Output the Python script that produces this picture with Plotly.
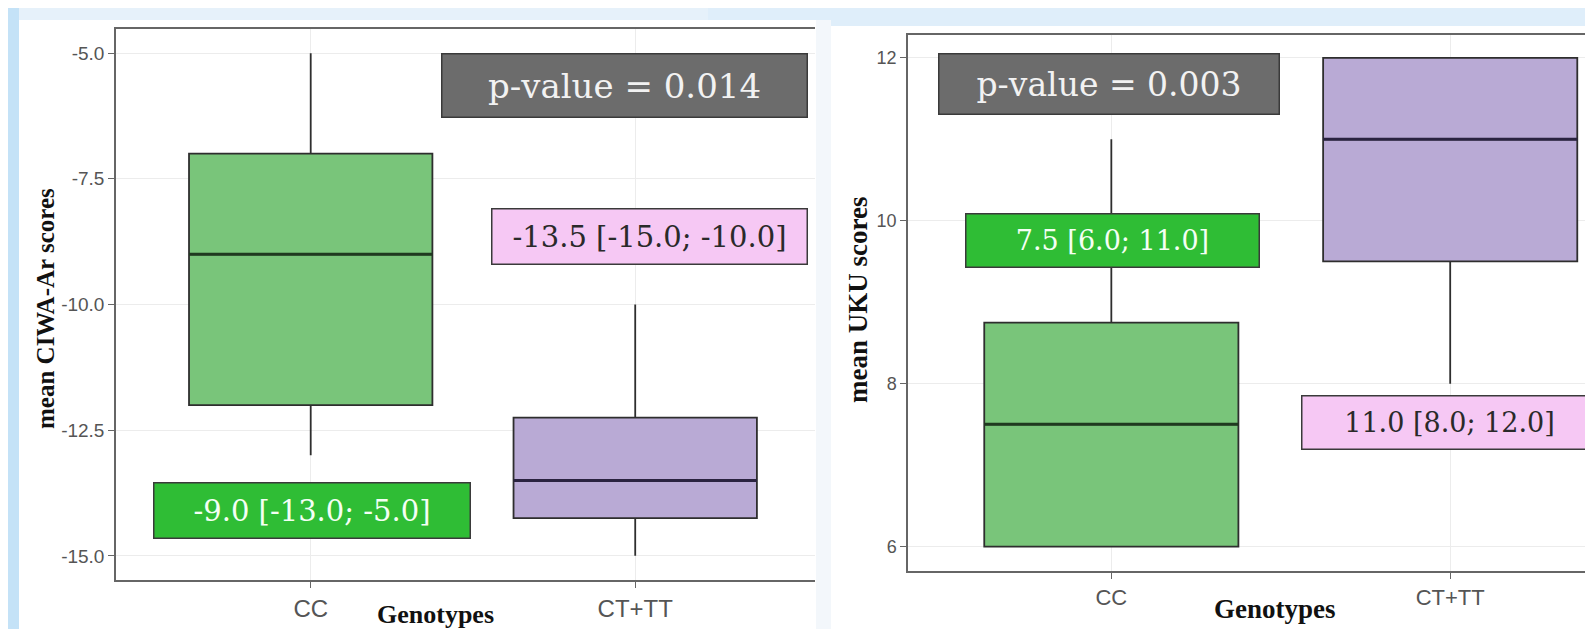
import plotly.graph_objects as go

W, H = 1593, 629

genotypes = ["CC", "CT+TT"]

# CIWA-Ar (left panel)
ciwa_q1 = [-12.0, -14.25]
ciwa_median = [-9.0, -13.5]
ciwa_q3 = [-7.0, -12.25]
ciwa_low = [-13.0, -15.0]
ciwa_high = [-5.0, -10.0]
ciwa_ticks = [-15.0, -12.5, -10.0, -7.5, -5.0]
ciwa_ticktext = ["-15.0", "-12.5", "-10.0", "-7.5", "-5.0"]
ciwa_labels = ["-9.0 [-13.0; -5.0]", "-13.5 [-15.0; -10.0]"]
ciwa_p = "p-value = 0.014"

# UKU (right panel)
uku_q1 = [6.0, 9.5]
uku_median = [7.5, 11.0]
uku_q3 = [8.75, 12.0]
uku_low = [6.0, 8.0]
uku_high = [11.0, 12.0]
uku_ticks = [6, 8, 10, 12]
uku_labels = ["7.5 [6.0; 11.0]", "11.0 [8.0; 12.0]"]
uku_p = "p-value = 0.003"

fills = ["#79c57a", "#b9aad5"]
median_cols = ["#1f3a1f", "#2a2340"]
line_col = "#2e2e2e"

fig = go.Figure()

def add_boxes(q1, med, q3, low, high, xa, ya):
    for i, g in enumerate(genotypes):
        fig.add_trace(go.Box(
            x=[g], q1=[q1[i]], median=[med[i]], q3=[q3[i]],
            lowerfence=[low[i]], upperfence=[high[i]],
            fillcolor=fills[i], line=dict(color=line_col, width=1.8),
            width=0.75, whiskerwidth=0, boxpoints=False, showlegend=False,
            hoverinfo="skip", xaxis=xa, yaxis=ya))
        # thicker median bar (ggplot fatten)
        fig.add_trace(go.Box(
            x=[g], q1=[med[i]], median=[med[i]], q3=[med[i]],
            lowerfence=[med[i]], upperfence=[med[i]],
            fillcolor="rgba(0,0,0,0)", line=dict(color=median_cols[i], width=3),
            width=0.75, whiskerwidth=0, boxpoints=False, showlegend=False,
            hoverinfo="skip", xaxis=xa, yaxis=ya))

add_boxes(ciwa_q1, ciwa_median, ciwa_q3, ciwa_low, ciwa_high, "x", "y")
add_boxes(uku_q1, uku_median, uku_q3, uku_low, uku_high, "x2", "y2")

def px(x):
    return x / W

def py(y):
    return 1 - y / H

axis_common = dict(showline=True, linecolor="#666666", linewidth=1.5,
                   ticks="outside", ticklen=6, tickcolor="#666666",
                   gridcolor="#ececec", gridwidth=1, zeroline=False)

def tf(size):
    return dict(family="Liberation Sans, Arial", color="#555555", size=size)

fig.update_layout(
    width=W, height=H,
    margin=dict(l=0, r=0, t=0, b=0),
    paper_bgcolor="white", plot_bgcolor="white",
    boxmode="overlay",
    xaxis=dict(domain=[px(108), px(807)], anchor="y", type="category",
               categoryorder="array", categoryarray=genotypes,
               range=[-0.6, 1.554], mirror=True, tickfont=tf(24), **axis_common),
    yaxis=dict(domain=[py(572), py(21)], anchor="x",
               range=[-15.48, -4.52], tickvals=ciwa_ticks, ticktext=ciwa_ticktext,
               tickfont=tf(19), **axis_common),
    xaxis2=dict(domain=[px(900), 1.0], anchor="y2", type="category",
                categoryorder="array", categoryarray=genotypes,
                range=[-0.6, 1.445], mirror=True, tickfont=tf(22), **axis_common),
    yaxis2=dict(domain=[py(563), py(27)], anchor="x2",
                range=[5.7, 12.28], tickvals=uku_ticks,
                tickfont=tf(18), **axis_common),
)

# background decoration (light blue slide background)
shapes = [
    dict(type="rect", xref="paper", yref="paper", x0=0, x1=px(700), y0=py(12), y1=1,
         fillcolor="#e6f1fa", line_width=0, layer="below"),
    dict(type="rect", xref="paper", yref="paper", x0=px(700), x1=1, y0=py(12), y1=1,
         fillcolor="#dfeefa", line_width=0, layer="below"),
    dict(type="rect", xref="paper", yref="paper", x0=px(823), x1=1, y0=py(18), y1=py(12),
         fillcolor="#dfeefa", line_width=0, layer="below"),
    dict(type="rect", xref="paper", yref="paper", x0=0, x1=px(11), y0=0, y1=1,
         fillcolor="#c4e2f7", line_width=0, layer="below"),
    dict(type="rect", xref="paper", yref="paper", x0=px(808), x1=px(823), y0=0, y1=py(12),
         fillcolor="#f3f7fb", line_width=0, layer="below"),
]
fig.update_layout(shapes=shapes)

serif = "DejaVu Serif, Georgia, serif"
bold_serif = "Liberation Serif, Times New Roman, serif"

def box_label(text, x0, x1, y0, y1, bg, fg, size, border="#3a3a3a"):
    return dict(text=text, xref="paper", yref="paper",
                x=px((x0 + x1) / 2), y=py((y0 + y1) / 2),
                xanchor="center", yanchor="middle", showarrow=False,
                width=x1 - x0 - 3, height=y1 - y0 - 3,
                bgcolor=bg, bordercolor=border, borderwidth=1.5, borderpad=0,
                font=dict(family=serif, size=size, color=fg))

annotations = [
    box_label(ciwa_p, 433, 800, 45, 110, "#6c6c6c", "#f2f2f2", 34),
    box_label(ciwa_labels[1], 483, 800, 200, 257, "#f6c8f4", "#2a2a2a", 29),
    box_label(ciwa_labels[0], 145, 463, 474, 531, "#2fbd35", "#f4fff4", 29),
    box_label(uku_p, 930, 1272, 45, 107, "#6c6c6c", "#f2f2f2", 33),
    box_label(uku_labels[0], 957, 1252, 205, 260, "#2fbd35", "#f4fff4", 27),
    box_label(uku_labels[1], 1293, 1590, 387, 442, "#f6c8f4", "#2a2a2a", 27),
    # axis titles
    dict(text="<b>mean CIWA-Ar scores</b>", xref="paper", yref="paper",
         x=px(37), y=py(301), textangle=-90, showarrow=False,
         xanchor="center", yanchor="middle",
         font=dict(family=bold_serif, size=25, color="#111111")),
    dict(text="<b>Genotypes</b>", xref="paper", yref="paper",
         x=px(427), y=py(606), showarrow=False, xanchor="center", yanchor="middle",
         font=dict(family=bold_serif, size=26, color="#111111")),
    dict(text="<b>mean UKU scores</b>", xref="paper", yref="paper",
         x=px(850), y=py(292), textangle=-90, showarrow=False,
         xanchor="center", yanchor="middle",
         font=dict(family=bold_serif, size=27, color="#111111")),
    dict(text="<b>Genotypes</b>", xref="paper", yref="paper",
         x=px(1267), y=py(601), showarrow=False, xanchor="center", yanchor="middle",
         font=dict(family=bold_serif, size=27, color="#111111")),
]
fig.update_layout(annotations=annotations)

fig.write_html("out.html")
